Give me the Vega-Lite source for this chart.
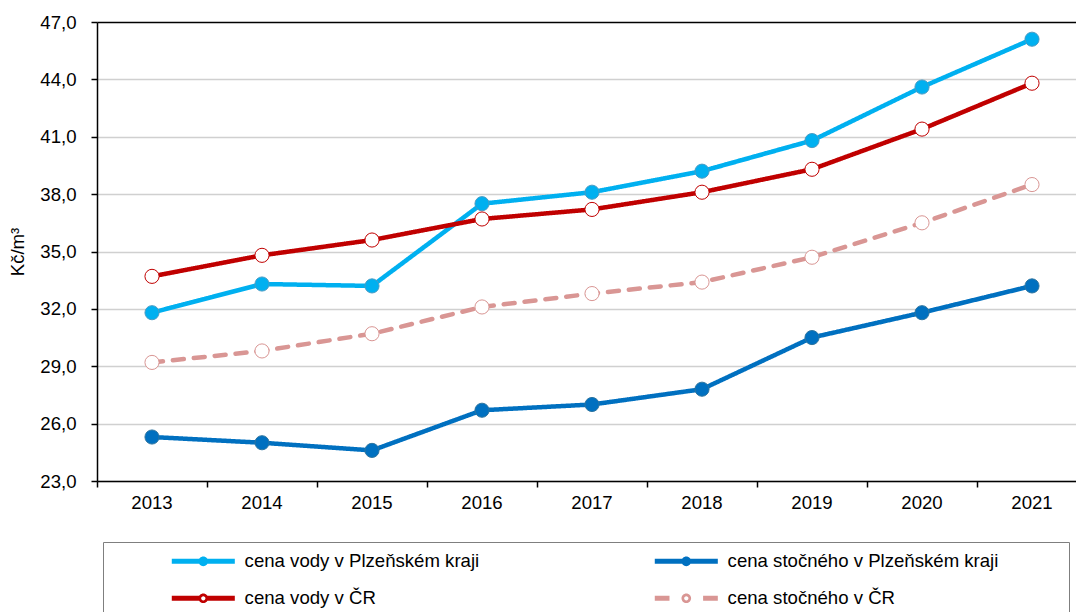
{
  "$schema": "https://vega.github.io/schema/vega-lite/v6.json",
  "width": 979,
  "height": 459,
  "autosize": {"type": "none"},
  "padding": {"left": 97, "top": 22, "right": 0, "bottom": 131},
  "background": "white",
  "config": {
    "font": "Liberation Sans",
    "view": {"stroke": null},
    "axis": {
      "domainColor": "#000000",
      "domainWidth": 1.5,
      "tickColor": "#000000",
      "tickWidth": 1.5,
      "tickSize": 6,
      "labelFont": "Liberation Sans",
      "labelFontSize": 18.6,
      "labelColor": "#000000",
      "titleFont": "Liberation Sans",
      "titleFontSize": 18.6,
      "titleFontWeight": "normal",
      "titleColor": "#000000"
    }
  },
  "data": {
    "values": [
      {"rok": 2013, "rada": "cena stočného v Plzeňském kraji", "hodnota": 25.3},
      {"rok": 2014, "rada": "cena stočného v Plzeňském kraji", "hodnota": 25.0},
      {"rok": 2015, "rada": "cena stočného v Plzeňském kraji", "hodnota": 24.6},
      {"rok": 2016, "rada": "cena stočného v Plzeňském kraji", "hodnota": 26.7},
      {"rok": 2017, "rada": "cena stočného v Plzeňském kraji", "hodnota": 27.0},
      {"rok": 2018, "rada": "cena stočného v Plzeňském kraji", "hodnota": 27.8},
      {"rok": 2019, "rada": "cena stočného v Plzeňském kraji", "hodnota": 30.5},
      {"rok": 2020, "rada": "cena stočného v Plzeňském kraji", "hodnota": 31.8},
      {"rok": 2021, "rada": "cena stočného v Plzeňském kraji", "hodnota": 33.2},
      {"rok": 2013, "rada": "cena vody v Plzeňském kraji", "hodnota": 31.8},
      {"rok": 2014, "rada": "cena vody v Plzeňském kraji", "hodnota": 33.3},
      {"rok": 2015, "rada": "cena vody v Plzeňském kraji", "hodnota": 33.2},
      {"rok": 2016, "rada": "cena vody v Plzeňském kraji", "hodnota": 37.5},
      {"rok": 2017, "rada": "cena vody v Plzeňském kraji", "hodnota": 38.1},
      {"rok": 2018, "rada": "cena vody v Plzeňském kraji", "hodnota": 39.2},
      {"rok": 2019, "rada": "cena vody v Plzeňském kraji", "hodnota": 40.8},
      {"rok": 2020, "rada": "cena vody v Plzeňském kraji", "hodnota": 43.6},
      {"rok": 2021, "rada": "cena vody v Plzeňském kraji", "hodnota": 46.1},
      {"rok": 2013, "rada": "cena stočného v ČR", "hodnota": 29.2},
      {"rok": 2014, "rada": "cena stočného v ČR", "hodnota": 29.8},
      {"rok": 2015, "rada": "cena stočného v ČR", "hodnota": 30.7},
      {"rok": 2016, "rada": "cena stočného v ČR", "hodnota": 32.1},
      {"rok": 2017, "rada": "cena stočného v ČR", "hodnota": 32.8},
      {"rok": 2018, "rada": "cena stočného v ČR", "hodnota": 33.4},
      {"rok": 2019, "rada": "cena stočného v ČR", "hodnota": 34.7},
      {"rok": 2020, "rada": "cena stočného v ČR", "hodnota": 36.5},
      {"rok": 2021, "rada": "cena stočného v ČR", "hodnota": 38.5},
      {"rok": 2013, "rada": "cena vody v ČR", "hodnota": 33.7},
      {"rok": 2014, "rada": "cena vody v ČR", "hodnota": 34.8},
      {"rok": 2015, "rada": "cena vody v ČR", "hodnota": 35.6},
      {"rok": 2016, "rada": "cena vody v ČR", "hodnota": 36.7},
      {"rok": 2017, "rada": "cena vody v ČR", "hodnota": 37.2},
      {"rok": 2018, "rada": "cena vody v ČR", "hodnota": 38.1},
      {"rok": 2019, "rada": "cena vody v ČR", "hodnota": 39.3},
      {"rok": 2020, "rada": "cena vody v ČR", "hodnota": 41.4},
      {"rok": 2021, "rada": "cena vody v ČR", "hodnota": 43.8}
    ]
  },
  "encoding": {
    "y": {
      "field": "hodnota",
      "type": "quantitative",
      "scale": {"domain": [23, 47], "nice": false, "zero": false},
      "axis": {
        "values": [23, 26, 29, 32, 35, 38, 41, 44, 47],
        "labelExpr": "replace(format(datum.value, '.1f'), '.', ',')",
        "title": "Kč/m³",
        "titlePadding": 12,
        "labelPadding": 15,
        "grid": true,
        "gridColor": {"condition": {"test": "datum.value === 47", "value": "#000000"}, "value": "#D0D0D0"},
        "gridWidth": {"condition": {"test": "datum.value === 47", "value": 1.5}, "value": 1.3}
      }
    }
  },
  "layer": [
    {
      "mark": {"type": "line", "strokeWidth": 4.5, "strokeCap": "round", "strokeJoin": "round"},
      "encoding": {
        "x": {
          "field": "rok",
          "type": "ordinal",
          "scale": {"type": "band", "paddingInner": 0, "paddingOuter": 0, "range": [0, 990]},
          "axis": {"orient": "bottom", "bandPosition": 0, "labels": false, "ticks": true, "domain": true, "grid": false, "title": null, "tickSize": 6}
        },
        "color": {
          "field": "rada",
          "type": "nominal",
          "scale": {
            "domain": ["cena vody v Plzeňském kraji", "cena vody v ČR", "cena stočného v Plzeňském kraji", "cena stočného v ČR"],
            "range": ["#00B0F0", "#C00000", "#0070C0", "#D99694"]
          },
          "legend": {
            "orient": "none",
            "legendX": 6,
            "legendY": 520,
            "columns": 2,
            "title": null,
            "padding": 10,
            "strokeColor": "#7F7F7F",
            "fillColor": "#FFFFFF",
            "symbolSize": 256,
            "symbolStrokeWidth": 0,
            "symbolOffset": 81,
            "labelOffset": 32,
            "labelFont": "Liberation Sans",
            "labelFontSize": 18.6,
            "labelColor": "#000000",
            "labelLimit": 500,
            "columnPadding": 116,
            "rowPadding": 18,
            "encode": {
              "symbols": {
                "update": {
                  "shape": {"signal": "datum.value === 'cena vody v Plzeňském kraji' ? 'M-3.94,-0.3125H3.94V0.3125H-3.94Z M0.6,0A0.6,0.6 0 1 1 -0.6,0A0.6,0.6 0 1 1 0.6,0Z' : datum.value === 'cena stočného v Plzeňském kraji' ? 'M-3.94,-0.3125H3.94V0.3125H-3.94Z M0.6,0A0.6,0.6 0 1 1 -0.6,0A0.6,0.6 0 1 1 0.6,0Z M46.5,0' : datum.value === 'cena vody v ČR' ? 'M-3.94,-0.3125H-0.5V0.3125H-3.94Z M0.5,-0.3125H3.94V0.3125H0.5Z M0.6,0A0.6,0.6 0 1 1 -0.6,0A0.6,0.6 0 1 1 0.6,0Z M0.27,0A0.27,0.27 0 1 0 -0.27,0A0.27,0.27 0 1 0 0.27,0Z' : 'M-3.94,-0.3125H-2.1V0.3125H-3.94Z M2.1,-0.3125H3.94V0.3125H2.1Z M0.6,0A0.6,0.6 0 1 1 -0.6,0A0.6,0.6 0 1 1 0.6,0Z M0.27,0A0.27,0.27 0 1 0 -0.27,0A0.27,0.27 0 1 0 0.27,0Z M46.5,0'"},
                  "fill": {"signal": "datum.value === 'cena vody v Plzeňském kraji' ? '#00B0F0' : datum.value === 'cena stočného v Plzeňském kraji' ? '#0070C0' : datum.value === 'cena vody v ČR' ? '#C00000' : '#D99694'"},
                  "stroke": {"value": "transparent"},
                  "strokeDash": {"value": [1, 0]},
                  "strokeWidth": {"value": 0},
                  "opacity": {"value": 1},
                  "fillOpacity": {"value": 1}
                }
              }
            }
          }
        },
        "strokeDash": {
          "field": "rada",
          "type": "nominal",
          "scale": {
            "domain": ["cena vody v Plzeňském kraji", "cena stočného v Plzeňském kraji", "cena vody v ČR", "cena stočného v ČR"],
            "range": [[1, 0], [1, 0], [1, 0], [11, 10]]
          },
          "legend": null
        }
      }
    },
    {
      "mark": {"type": "point", "shape": "circle", "filled": false, "opacity": 1},
      "encoding": {
        "x": {
          "field": "rok",
          "type": "ordinal",
          "scale": {"type": "band", "paddingInner": 0, "paddingOuter": 0, "range": [0, 990]},
          "axis": {"orient": "bottom", "labels": true, "ticks": false, "tickSize": 0, "domain": false, "grid": false, "title": null, "labelPadding": 12, "labelAngle": 0}
        },
        "fill": {
          "field": "rada",
          "type": "nominal",
          "scale": {
            "domain": ["cena vody v Plzeňském kraji", "cena stočného v Plzeňském kraji", "cena vody v ČR", "cena stočného v ČR"],
            "range": ["#00B0F0", "#0070C0", "#FFFFFF", "#FFFFFF"]
          },
          "legend": null
        },
        "stroke": {
          "field": "rada",
          "type": "nominal",
          "scale": {
            "domain": ["cena vody v Plzeňském kraji", "cena stočného v Plzeňském kraji", "cena vody v ČR", "cena stočného v ČR"],
            "range": ["#4A9CC4", "#2E75A0", "#C00000", "#D99694"]
          },
          "legend": null
        },
        "size": {
          "field": "rada",
          "type": "nominal",
          "scale": {
            "domain": ["cena vody v Plzeňském kraji", "cena stočného v Plzeňském kraji", "cena vody v ČR", "cena stočného v ČR"],
            "range": [200, 200, 79, 79]
          },
          "legend": null
        },
        "strokeWidth": {
          "field": "rada",
          "type": "nominal",
          "scale": {
            "domain": ["cena vody v Plzeňském kraji", "cena stočného v Plzeňském kraji", "cena vody v ČR", "cena stočného v ČR"],
            "range": [1, 1, 3, 3]
          },
          "legend": null
        }
      }
    }
  ],
  "resolve": {"axis": {"x": "independent"}}
}
